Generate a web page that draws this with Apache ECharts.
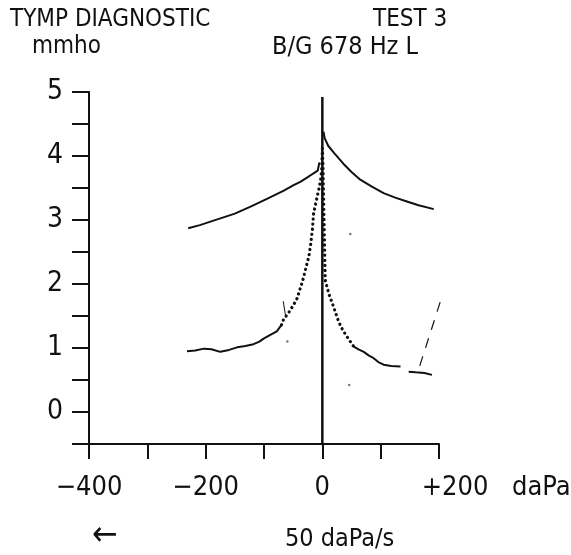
<!DOCTYPE html>
<html>
<head>
<meta charset="utf-8">
<script src="https://cdn.jsdelivr.net/npm/echarts@6/dist/echarts.min.js"></script>
<style>
html,body{margin:0;padding:0;background:#fff;}
#chart{width:571px;height:555px;}
</style>
</head>
<body>
<div id="chart"></div>
<script>
// ---- data (pressure in daPa, admittance in mmho) ----
const xTickValues = [-400, -200, 0, 200];
const xTickLabels = ['\u2212400', '\u2212200', '0', '+200'];
const yTickValues = [0, 1, 2, 3, 4, 5];

const upperLeftX = [-230, -210, -180, -150, -123, -95, -66, -50, -37, -25, -15, -8, -5];
const upperLeftY = [2.87, 2.92, 3.01, 3.10, 3.21, 3.33, 3.46, 3.54, 3.60, 3.67, 3.73, 3.77, 3.90];

const upperRightX = [2, 4, 10, 20, 36, 50, 65, 85, 105, 125, 145, 165, 191];
const upperRightY = [4.38, 4.28, 4.16, 4.05, 3.88, 3.75, 3.63, 3.52, 3.42, 3.35, 3.29, 3.23, 3.17];

const lowerLeftX = [-232, -218, -203, -190, -175, -160, -146, -132, -118, -108, -100, -90, -78, -70];
const lowerLeftY = [0.95, 0.96, 0.99, 0.98, 0.94, 0.97, 1.01, 1.03, 1.06, 1.10, 1.15, 1.20, 1.26, 1.36];

const lowerPeakX = [-70, -66, -60, -55, -49, -43, -39, -35, -32, -29, -26, -23, -20, -17, -15, -12, -9, -6, -3, -1, 0, 1, 3, 5, 11, 19, 28, 35, 42, 54];
const lowerPeakY = [1.36, 1.46, 1.52, 1.59, 1.68, 1.78, 1.90, 2.01, 2.11, 2.22, 2.33, 2.43, 2.62, 2.85, 3.10, 3.23, 3.36, 3.48, 3.62, 3.80, 4.12, 3.90, 2.95, 2.06, 1.85, 1.65, 1.41, 1.28, 1.18, 1.02];

const lowerRightX = [54, 62, 71, 80, 88, 96, 105, 118, 134];
const lowerRightY = [1.02, 0.98, 0.94, 0.88, 0.84, 0.78, 0.74, 0.72, 0.71];
const lowerTailX = [148, 160, 175, 188];
const lowerTailY = [0.63, 0.62, 0.61, 0.58];

const probeX = [0, 0];
const probeY = [-0.5, 4.92];

const slashLeftX = [-67, -63];
const slashLeftY = [1.73, 1.50];
const slashRightX = [167, 207];
const slashRightY = [0.72, 1.86];

const specksX = [48, 46, -60];
const specksY = [2.78, 0.42, 1.10];

// ---- helpers ----
const zip = (xs, ys) => xs.map((x, i) => [x, ys[i]]);
const FONT = "'Liberation Sans Narrow','DejaVu Sans Condensed','Arial Narrow',sans-serif";
const INK = '#111';

function lineSeries(name, xs, ys, style, extra) {
  return Object.assign({
    name: name,
    type: 'line',
    data: zip(xs, ys),
    showSymbol: false,
    symbol: 'none',
    smooth: false,
    silent: true,
    lineStyle: Object.assign({ color: INK, width: 2 }, style || {})
  }, extra || {});
}

const chart = echarts.init(document.getElementById('chart'), null, { renderer: 'canvas' });

const option = {
  animation: false,
  backgroundColor: '#fff',
  grid: {
    left: 89, right: 132, top: 92, bottom: 111,
    containLabel: false,
    outerBoundsMode: 'none'
  },
  xAxis: {
    type: 'value',
    min: -400, max: 200, interval: 100,
    axisLine: { show: true, onZero: false, lineStyle: { color: INK, width: 2 } },
    axisTick: { show: true, inside: false, length: 15, lineStyle: { color: INK, width: 2 } },
    splitLine: { show: false },
    axisLabel: {
      margin: 30,
      fontFamily: FONT, fontSize: 27, color: INK,
      formatter: function (v) {
        const i = xTickValues.indexOf(v);
        if (i < 0) return '';
        if (v === 200) return '{shift|' + xTickLabels[i] + '}';
        return xTickLabels[i];
      },
      rich: { shift: { fontFamily: FONT, fontSize: 27, color: INK, padding: [0, 0, 0, 32] } }
    },
    name: 'daPa',
    nameLocation: 'end',
    nameGap: 73,
    nameTextStyle: { fontFamily: FONT, fontSize: 27, color: INK, align: 'left', verticalAlign: 'top', padding: [30, 0, 0, 0] }
  },
  yAxis: {
    type: 'value',
    min: -0.5, max: 5, interval: 0.5,
    axisLine: { show: true, onZero: false, lineStyle: { color: INK, width: 2 } },
    axisTick: { show: true, inside: false, length: 17, lineStyle: { color: INK, width: 2 } },
    splitLine: { show: false },
    axisLabel: {
      margin: 26,
      fontFamily: FONT, fontSize: 28, color: INK,
      formatter: function (v) {
        const r = Math.round(v * 10) / 10;
        return yTickValues.indexOf(r) >= 0 ? String(r) : '';
      }
    }
  },
  graphic: [
    { type: 'text', left: 10, top: 8, style: { text: 'TYMP DIAGNOSTIC', font: '24px ' + FONT, fill: INK } },
    { type: 'text', left: 32, top: 35, style: { text: 'mmho', font: '24px ' + FONT, fill: INK } },
    { type: 'text', left: 373, top: 8, style: { text: 'TEST 3', font: '24px ' + FONT, fill: INK } },
    { type: 'text', left: 272, top: 35, style: { text: 'B/G 678 Hz L', font: '25px ' + FONT, fill: INK } },
    { type: 'text', left: 92, top: 519, style: { text: '\u2190', font: '34px ' + FONT, fill: INK } },
    { type: 'text', left: 285, top: 527, style: { text: '50 daPa/s', font: '25px ' + FONT, fill: INK } }
  ],
  series: [
    lineSeries('probe', probeX, probeY, { width: 2.5 }),
    lineSeries('admittance-left', upperLeftX, upperLeftY, { width: 2 }),
    lineSeries('admittance-right', upperRightX, upperRightY, { width: 2 }),
    lineSeries('lower-left', lowerLeftX, lowerLeftY, { width: 2 }),
    lineSeries('lower-peak', lowerPeakX, lowerPeakY, { width: 3.2, type: [0.1, 5], cap: 'round' }),
    lineSeries('lower-right', lowerRightX, lowerRightY, { width: 2 }),
    lineSeries('lower-tail', lowerTailX, lowerTailY, { width: 2 }),
    lineSeries('slash-left', slashLeftX, slashLeftY, { width: 1 }),
    lineSeries('slash-right', slashRightX, slashRightY, { width: 1.2, type: [10, 9] }, { clip: false }),
    {
      name: 'specks', type: 'scatter', silent: true,
      data: zip(specksX, specksY), symbolSize: 2.5,
      itemStyle: { color: '#555' }
    }
  ]
};
chart.setOption(option);
</script>
</body>
</html>
